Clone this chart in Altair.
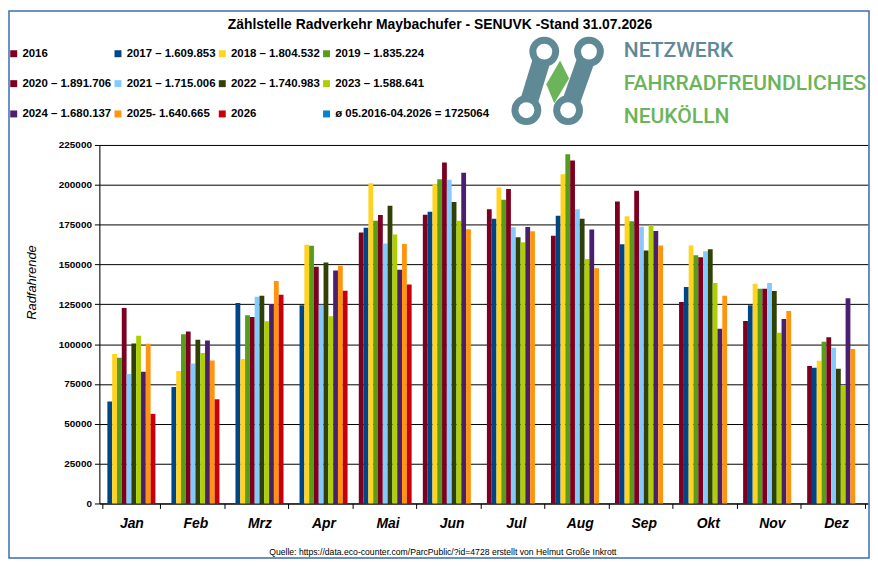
import altair as alt
import pandas as pd

months = ["Jan", "Feb", "Mrz", "Apr", "Mai", "Jun", "Jul", "Aug", "Sep", "Okt", "Nov", "Dez"]
series_labels = ["2016", "2017 – 1.609.853", "2018 – 1.804.532", "2019 – 1.835.224",
                 "2020 – 1.891.706", "2021 – 1.715.006", "2022 – 1.740.983", "2023 – 1.588.641",
                 "2024 – 1.680.137", "2025- 1.640.665", "2026", "ø 05.2016-04.2026 = 1725064"]
colors = ["#7e0021", "#004586", "#ffd320", "#579d1c", "#7e0021", "#83caff",
          "#314004", "#aecf00", "#4b1f6f", "#ff950e", "#c5000b", "#0084d1"]

v2016 = [None, None, None, None, 170000, 181250, 184600, 168100, 189600, 126500, 114600, 86250]
v2017 = [64000, 73100, 125800, 124400, 173100, 183100, 178750, 180600, 162700, 135800, 124400, 85200]
v2018 = [93750, 83100, 90600, 162300, 201000, 200400, 198300, 206700, 180200, 161900, 137900, 89600]
v2019 = [91500, 106250, 118100, 161700, 177500, 203500, 190600, 219200, 177100, 155800, 134800, 101500]
v2020 = [122700, 107900, 117100, 148500, 181000, 214000, 197300, 215200, 196250, 154600, 134800, 104400]
v2021 = [81250, 87900, 129800, 124800, 163100, 203100, 173300, 184600, 173750, 158300, 138300, 97700]
v2022 = [100400, 102700, 130400, 151250, 186900, 189200, 167100, 178750, 158750, 159600, 133300, 84600]
v2023 = [105200, 94400, 114400, 117500, 168750, 177500, 164000, 153500, 174800, 138300, 107100, 74200]
v2024 = [82700, 102300, 125200, 146250, 146700, 207500, 173500, 171900, 171000, 109600, 115800, 128750]
v2025 = [100200, 89800, 139600, 149200, 162900, 172100, 170800, 147700, 161900, 130400, 120800, 96900]
v2026 = [56250, 65400, 131000, 133500, 137500, None, None, None, None, None, None, None]
vavg = [None] * 12

all_series = [v2016, v2017, v2018, v2019, v2020, v2021, v2022, v2023, v2024, v2025, v2026, vavg]

rows = []
for label, vals in zip(series_labels, all_series):
    for m, v in zip(months, vals):
        if v is not None:
            rows.append({"month": m, "series": label, "value": v})
df = pd.DataFrame(rows)

FONT = "Liberation Sans"
TEAL = "#5f8a95"
GREEN = "#6cb45a"

bars = alt.Chart(df).mark_bar().encode(
    x=alt.X("month:N", sort=months,
            scale=alt.Scale(domain=months, paddingInner=0.1, paddingOuter=0.05),
            axis=alt.Axis(title=None, labelAngle=0, domainColor="black", tickColor="black",
                          tickSize=5, tickBand="extent", labelFont=FONT, labelFontSize=14,
                          labelFontWeight="bold", labelFontStyle="italic", labelColor="black",
                          labelPadding=8, grid=False)),
    xOffset=alt.XOffset("series:N", scale=alt.Scale(domain=series_labels, paddingInner=0, paddingOuter=0)),
    y=alt.Y("value:Q", scale=alt.Scale(domain=[0, 225000], nice=False),
            axis=alt.Axis(values=list(range(0, 225001, 25000)), format="d", grid=True,
                          gridColor="black", gridWidth=1, gridOpacity=1, domainColor="black",
                          tickColor="black", tickSize=5, labelFont=FONT, labelFontWeight="bold",
                          labelFontSize=10, labelColor="black", labelPadding=3,
                          title="Radfahrende", titleFont=FONT, titleFontStyle="italic",
                          titleFontWeight="normal", titleFontSize=13, titleColor="black",
                          titleX=-68, titleY=138, titleAlign="center", titleBaseline="middle")),
    color=alt.Color("series:N", scale=alt.Scale(domain=series_labels, range=colors),
                    legend=alt.Legend(orient="none", legendX=-92, legendY=-98, columns=4,
                                      direction="horizontal", title=None, symbolType="square",
                                      symbolSize=49, symbolStrokeWidth=0, labelFont=FONT,
                                      labelFontSize=11.5, labelFontWeight="bold", labelColor="black",
                                      labelOffset=3, columnPadding=-1.5, rowPadding=17.5,
                                      labelLimit=300, gridAlign="each", padding=0)),
)

one = alt.Data(values=[{}])

frame = alt.Chart(one).mark_rect(fillOpacity=0, stroke="#3a6db5", strokeWidth=1.5).encode(
    x=alt.value(-91), x2=alt.value(775), y=alt.value(-135), y2=alt.value(416))

title = alt.Chart(one).mark_text(
    text="Zählstelle Radverkehr Maybachufer - SENUVK -Stand 31.07.2026",
    font=FONT, fontSize=14, fontWeight="bold", align="center", baseline="alphabetic",
    color="black").encode(x=alt.value(343), y=alt.value(-117))

footer = alt.Chart(one).mark_text(
    text="Quelle:  https://data.eco-counter.com/ParcPublic/?id=4728  erstellt von Helmut Große Inkrott",
    font=FONT, fontSize=8.7, align="left", baseline="alphabetic", color="black"
).encode(x=alt.value(171), y=alt.value(413))

# logo
green_shape = alt.Chart(one).mark_point(
    shape="M0.14,-1 L0.57,-0.14 L-0.14,1.05 L-0.52,0.14 Z", filled=True, size=1764,
    color=GREEN, opacity=1, strokeWidth=0).encode(x=alt.value(461), y=alt.value(-64))

def link(x1, y1, x2, y2):
    neck = alt.Chart(one).mark_rule(strokeWidth=18, color=TEAL, strokeCap="round").encode(
        x=alt.value(x1), y=alt.value(y1), x2=alt.value(x2), y2=alt.value(y2))
    loop1 = alt.Chart(one).mark_point(shape="circle", filled=True, size=900, color=TEAL,
                                      opacity=1).encode(x=alt.value(x1), y=alt.value(y1))
    loop2 = alt.Chart(one).mark_point(shape="circle", filled=True, size=900, color=TEAL,
                                      opacity=1).encode(x=alt.value(x2), y=alt.value(y2))
    hole1 = alt.Chart(one).mark_point(shape="circle", filled=True, size=256, color="white",
                                      opacity=1).encode(x=alt.value(x1), y=alt.value(y1))
    hole2 = alt.Chart(one).mark_point(shape="circle", filled=True, size=256, color="white",
                                      opacity=1).encode(x=alt.value(x2), y=alt.value(y2))
    return [neck, loop1, loop2, hole1, hole2]

logo_marks = [green_shape] + link(448, -94, 430, -35) + link(493, -94, 472, -35)

def logo_text(txt, y, col):
    return alt.Chart(one).mark_text(text=txt, font="Roboto", fontSize=21.2, fontWeight=500,
                                    align="left", baseline="alphabetic", color=col).encode(
        x=alt.value(528), y=alt.value(y))

texts = [logo_text("NETZWERK", -89, TEAL),
         logo_text("FAHRRADFREUNDLICHES", -55.7, GREEN),
         logo_text("NEUKÖLLN", -22.3, GREEN)]

chart = alt.layer(frame, bars, title, footer, *logo_marks, *texts).properties(
    width=774, height=361,
    padding={"left": 92, "top": 136, "right": 2, "bottom": 56},
    autosize=alt.AutoSizeParams(type="none"),
).configure_view(stroke=None).configure(background="white")

chart.save("out.html", embed_options={"renderer": "svg", "actions": False})
